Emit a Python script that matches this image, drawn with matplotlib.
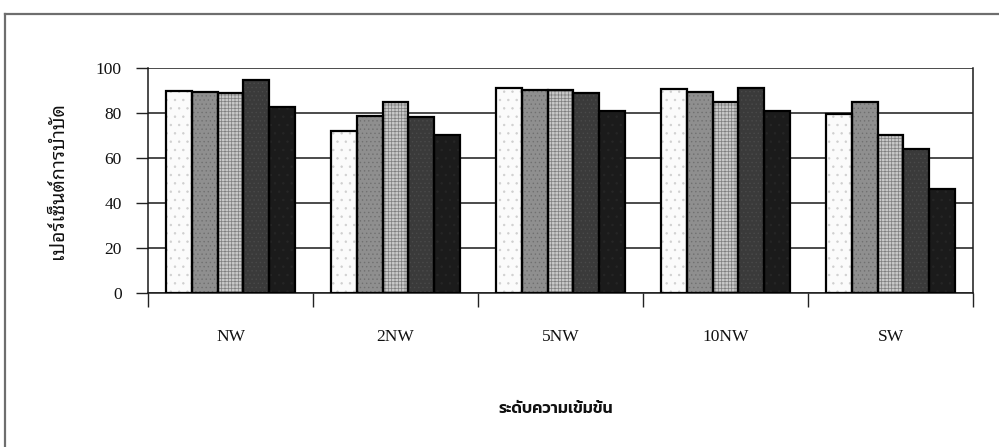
import numpy as np
import matplotlib
matplotlib.use('Agg')
import matplotlib.pyplot as plt
from matplotlib.lines import Line2D

# treatment percentage for each concentration level (5 series per group)
levels = ['NW', '2NW', '5NW', '10NW', 'SW']
s1 = [89.5, 72, 91, 90.5, 79.5]
s2 = [89, 78.5, 90, 89, 84.5]
s3 = [88.5, 84.5, 90, 84.5, 70]
s4 = [94.5, 78, 88.5, 91, 64]
s5 = [82.5, 70, 80.5, 80.5, 46]
series = [s1, s2, s3, s4, s5]

# fill / hatch for each series, black-and-white print style
faces = ['#fbfbfb', '#8f8f8f', '#c8c8c8', '#3a3a3a', '#1b1b1b']
hatch_cols = ['#cfcfcf', '#707070', '#7e7e7e', '#4a4a4a', '#262626']
hatches = ['..', '....', '+++++', '....', '..']

plt.rcParams['hatch.linewidth'] = 0.5

fig = plt.figure(figsize=(9.99, 4.47), dpi=100)
ax = fig.add_axes([148/999, 1 - 293/447, 825/999, 225.5/447])

x = np.arange(1, len(levels) + 1)
w = 0.156
for k, vals in enumerate(series):
    pos = x + (k - 2) * w
    ax.bar(pos, vals, width=w, color=faces[k], edgecolor=hatch_cols[k],
           hatch=hatches[k], linewidth=0, zorder=3)
    ax.bar(pos, vals, width=w, fill=False, edgecolor='black',
           linewidth=1.6, zorder=4)

ax.set_xlim(0.5, 5.5)
ax.set_ylim(0, 100)
ax.set_yticks(np.arange(0, 101, 20))
ax.yaxis.grid(True, color='#1a1a1a', linewidth=1.1, zorder=0)
ax.set_axisbelow(True)

ax.set_xticks(x)
ax.set_xticklabels(levels)
ax.set_xticks(np.arange(0.5, 5.6, 1), minor=True)
ax.tick_params(axis='x', which='major', length=0, pad=26)
ax.tick_params(axis='x', which='minor', length=10, width=1.0, color='#222222')
ax.tick_params(axis='y', length=9, width=1.0, pad=10, color='#222222')

for lab in ax.get_xticklabels() + ax.get_yticklabels():
    lab.set_fontfamily('Liberation Serif')
    lab.set_fontsize(12.5)
    lab.set_color('#111111')

for sp in ['left', 'bottom', 'right']:
    ax.spines[sp].set_color('#1a1a1a')
    ax.spines[sp].set_linewidth(1.1)
ax.spines['top'].set_visible(False)

ax.set_ylabel('เปอร์เซ็นต์การบำบัด', family='Noto Sans Thai Looped',
              fontsize=14, labelpad=20, color='#111111')
fig.text(556 / 999, 1 - 409 / 447, 'ระดับความเข้มข้น', family='Kanit',
         fontweight='semibold', fontsize=11.5, ha='center', va='center',
         color='#111111')

# outer frame around the chart
fig.add_artist(Line2D([5/999, 1.0], [1 - 14/447, 1 - 14/447], color='#6e6e6e',
                      linewidth=1.6, transform=fig.transFigure))
fig.add_artist(Line2D([5/999, 5/999], [1 - 14/447, 0.0], color='#6e6e6e',
                      linewidth=1.6, transform=fig.transFigure))

fig.savefig('out.png', dpi=100, facecolor='white')
